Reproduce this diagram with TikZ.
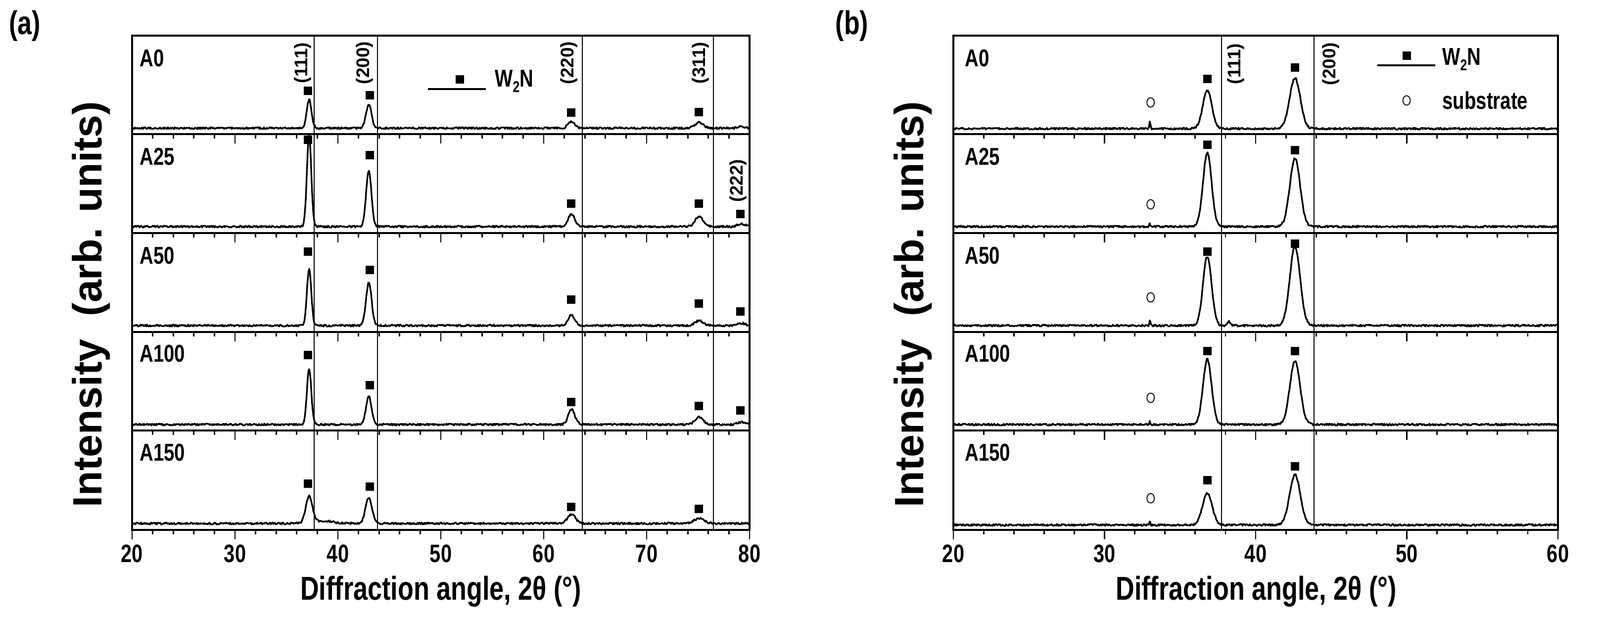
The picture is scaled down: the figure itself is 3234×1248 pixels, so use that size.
\documentclass[tikz,border=0pt]{standalone}
\usepackage{fontspec}
\setmainfont{Liberation Sans}
\newfontfamily\nar[FakeStretch=0.78]{Liberation Sans}
\tikzset{x=0.01cm,y=-0.01cm,
 frame/.style={line width=0.9pt},
 curve/.style={line width=0.95pt,line join=round},
 sq/.style={fill=black,inner sep=0,minimum width=0.17cm,minimum height=0.17cm},
 circ/.style={draw,line width=0.5pt,ellipse,inner sep=0,minimum width=0.15cm,minimum height=0.19cm},
 samp/.style={font=\nar\bfseries\fontsize{14}{14}\selectfont,anchor=west},
 hkl/.style={font=\bfseries\fontsize{10.5}{10}\selectfont,rotate=90},
 tlab/.style={font=\nar\bfseries\fontsize{14.5}{14}\selectfont},
 xlab/.style={font=\nar\bfseries\fontsize{19}{19}\selectfont},
 ylab/.style={font=\bfseries\fontsize{23.5}{23}\selectfont,rotate=90},
 plab/.style={font=\nar\bfseries\fontsize{19}{19}\selectfont},
}
\usetikzlibrary{shapes.geometric}
\newcommand\pk[3]{-#2*exp(-(min(abs((\x-#1)/#3),9))^2)}
\begin{document}
\begin{tikzpicture}
\useasboundingbox (0,0) rectangle (3234,1248);
\fill[white] (0,0) rectangle (3234,1248);
% ---------------- panel (a)
\def\XA#1{267+(#1-20)*20.8}
\node[plab] (la) at (50,52) {(a)};
\draw[frame] (267,72) rectangle (1515,1071);
\foreach \yy in {271,471,671,870}{\draw[frame] (267,\yy) -- (1515,\yy);}
\foreach \yy in {271,471,671,870,1071}{
 \foreach \d in {20,22,...,80}{\draw[line width=0.8pt] ({\XA{\d}},\yy) -- ++(0,9);}
 \foreach \d in {20,30,...,80}{\draw[line width=0.8pt] ({\XA{\d}},\yy) -- ++(0,19);}}
\foreach \d in {37.7,43.85,63.75,76.5}{\draw[line width=0.5pt] ({\XA{\d}},72) -- ({\XA{\d}},1071);}
\foreach \d in {20,30,...,80}{\node[tlab] at ({\XA{\d}},1119) {\d};}
\node[xlab] (xa) at (891,1195) {Diffraction angle, 2θ (°)};
\node[ylab] (ya) at (184,615) {Intensity\ \ (arb. units)};
% curves
\draw[curve] plot[domain=20:80,samples=900] ({\XA{\x}},{261\pk{37.2}{58}{0.33}\pk{43.0}{47}{0.38}\pk{62.7}{14}{0.45}\pk{75.1}{12}{0.55}\pk{79.2}{3}{0.5}-4*rnd});
\draw[curve] plot[domain=20:80,samples=900] ({\XA{\x}},{460\pk{37.2}{184}{0.3}\pk{43.0}{114}{0.36}\pk{62.7}{26}{0.45}\pk{75.1}{20}{0.55}\pk{79.2}{6}{0.5}-4*rnd});
\draw[curve] plot[domain=20:80,samples=900] ({\XA{\x}},{660\pk{37.2}{114}{0.3}\pk{43.0}{87}{0.38}\pk{62.7}{22}{0.45}\pk{75.1}{10}{0.55}\pk{79.2}{5}{0.5}-4*rnd});
\draw[curve] plot[domain=20:80,samples=900] ({\XA{\x}},{860\pk{37.2}{113}{0.3}\pk{43.0}{57}{0.38}\pk{62.7}{31}{0.45}\pk{75.1}{15}{0.55}\pk{79.2}{5}{0.5}-4*rnd});
\draw[curve] plot[domain=20:80,samples=900] ({\XA{\x}},{1060\pk{37.2}{53}{0.45}\pk{43.0}{52}{0.45}\pk{62.7}{18}{0.55}\pk{75.1}{10}{0.7}\pk{38.5}{5}{1.5}-4*rnd});
% sample labels
\node[samp] (a0) at (270,118) {A0};
\node[samp] (a25) at (270,317) {A25};
\node[samp] (a50) at (270,517) {A50};
\node[samp] (a100) at (270,715) {A100};
\node[samp] (a150) at (270,915) {A150};
% hkl
\node[hkl] (h1) at (612,127) {(111)};
\node[hkl] (h2) at (737,127) {(200)};
\node[hkl] (h3) at (1150,127) {(220)};
\node[hkl] (h4) at (1416,127) {(311)};
\node[hkl] (h5) at (1492,365) {(222)};
% markers
\foreach \p/\q in {37.1/183,43.1/192,62.65/227,75.05/226,
 37.1/282,43.1/313,62.65/411,75.05/411,79.1/432,
 37.1/508,43.1/545,62.65/605,75.05/613,79.1/629,
 37.1/717,43.1/778,62.65/812,75.05/820,79.1/829,
 37.1/977,43.1/983,62.65/1024,75.05/1028}{\node[sq] at ({\XA{\p}},\q) {};}
% legend
\node[sq] (lga) at (929,160) {};
\coordinate (lga1) at (865,180); \coordinate (lga2) at (982,180);
\draw[line width=0.9pt] (lga1) -- (lga2);
\node[samp] (lgat) at (988,164) {W\raisebox{-0.4ex}{\fontsize{9}{9}\selectfont 2}N};
% ---------------- panel (b)
\def\XB#1{1927+(#1-20)*30.55}
\node[plab] (lb) at (1722,52) {(b)};
\draw[frame] (1927,72) rectangle (3149,1071);
\foreach \yy in {271,471,671,870}{\draw[frame] (1927,\yy) -- (3149,\yy);}
\foreach \yy in {271,471,671,870,1071}{
 \foreach \d in {20,22,...,60}{\draw[line width=0.8pt] ({\XB{\d}},\yy) -- ++(0,9);}
 \foreach \d in {20,30,...,60}{\draw[line width=0.8pt] ({\XB{\d}},\yy) -- ++(0,19);}}
\foreach \d in {37.74,43.86}{\draw[line width=0.5pt] ({\XB{\d}},72) -- ({\XB{\d}},1071);}
\foreach \d in {20,30,...,60}{\node[tlab] at ({\XB{\d}},1119) {\d};}
\node[xlab] (xb) at (2539,1195) {Diffraction angle, 2θ (°)};
\node[ylab] (yb) at (1845,615) {Intensity\ \ (arb. units)};
\draw[curve] plot[domain=20:60,samples=900] ({\XB{\x}},{262\pk{36.8}{77}{0.42}\pk{42.6}{102}{0.5}\pk{33.0}{16}{0.05}-4*rnd});
\draw[curve] plot[domain=20:60,samples=900] ({\XB{\x}},{460\pk{36.8}{149}{0.4}\pk{42.6}{138}{0.48}\pk{33.0}{6}{0.05}-4*rnd});
\draw[curve] plot[domain=20:60,samples=900] ({\XB{\x}},{660\pk{36.8}{140}{0.4}\pk{42.6}{160}{0.48}\pk{33.0}{12}{0.05}\pk{38.2}{8}{0.15}-4*rnd});
\draw[curve] plot[domain=20:60,samples=900] ({\XB{\x}},{860\pk{36.8}{132}{0.4}\pk{42.6}{128}{0.48}\pk{33.0}{6}{0.05}-4*rnd});
\draw[curve] plot[domain=20:60,samples=900] ({\XB{\x}},{1063\pk{36.8}{64}{0.45}\pk{42.6}{102}{0.5}\pk{33.0}{8}{0.05}-4*rnd});
\node[samp] (b0) at (1938,118) {A0};
\node[samp] (b25) at (1938,317) {A25};
\node[samp] (b50) at (1938,517) {A50};
\node[samp] (b100) at (1938,715) {A100};
\node[samp] (b150) at (1938,915) {A150};
\node[hkl] (g1) at (2498,129) {(111)};
\node[hkl] (g2) at (2690,129) {(200)};
\foreach \p/\q in {36.8/159,42.6/136,36.8/292,42.6/303,36.8/508,42.6/492,36.8/709,42.6/709,36.8/970,42.6/942}{\node[sq] at ({\XB{\p}},\q) {};}
\foreach \q in {207,413,601,804,1007}{\node[circ] at ({\XB{33.05}},\q) {};}
\node[sq] (lgb) at (2843,112) {};
\coordinate (lgb1) at (2784,132); \coordinate (lgb2) at (2901,132);
\draw[line width=0.9pt] (lgb1) -- (lgb2);
\node[samp] (lgbt) at (2903,120) {W\raisebox{-0.4ex}{\fontsize{9}{9}\selectfont 2}N};
\node[circ] (lgc) at (2843,203) {};
\node[samp] (lgct) at (2903,203) {substrate};
\end{tikzpicture}
\end{document}
